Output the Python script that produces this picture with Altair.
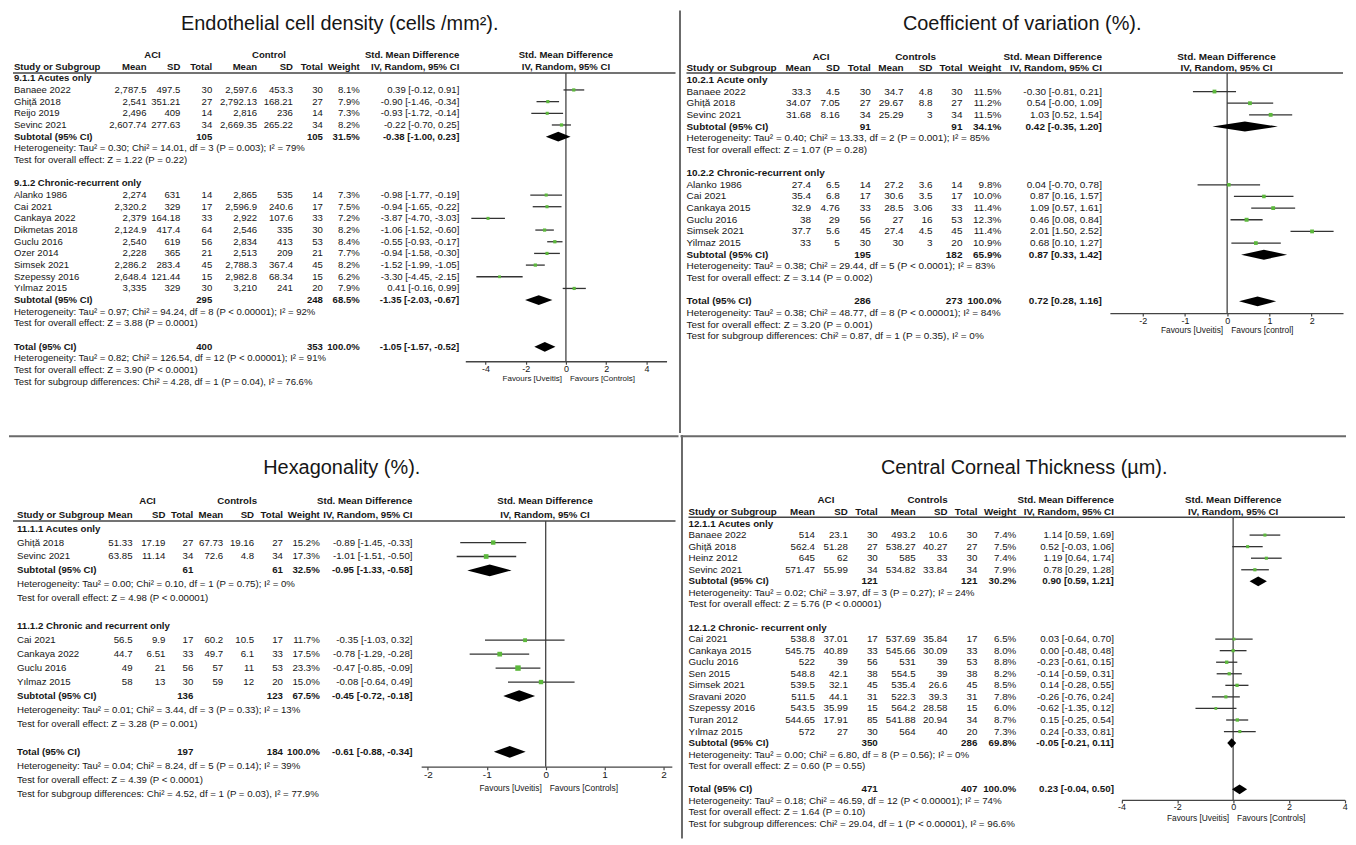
import altair as alt
import pandas as pd

# ======================= DATA =======================
HEAD_STUDY = "Study or Subgroup"
HEAD_ARM = ["Mean", "SD", "Total"]
HEAD_WEIGHT = "Weight"
HEAD_SMD = ["Std. Mean Difference", "IV, Random, 95% CI"]
HEAD_ACI = "ACI"

# ---------- Panel 1: Endothelial cell density ----------
p1_title = "Endothelial cell density (cells /mm²)."
p1_control = "Control"
p1_groups = ["9.1.1 Acutes only", "9.1.2 Chronic-recurrent only"]
p1_study = ["Banaee 2022", "Ghiță 2018", "Reijo 2019", "Sevinc 2021",
            "Alanko 1986", "Cai 2021", "Cankaya 2022", "Dikmetas 2018", "Guclu 2016",
            "Ozer 2014", "Simsek 2021", "Szepessy 2016", "Yılmaz 2015"]
p1_group = [0, 0, 0, 0, 1, 1, 1, 1, 1, 1, 1, 1, 1]
p1_aci_mean = ["2,787.5", "2,541", "2,496", "2,607.74", "2,274", "2,320.2", "2,379", "2,124.9",
               "2,540", "2,228", "2,286.2", "2,648.4", "3,335"]
p1_aci_sd = ["497.5", "351.21", "409", "277.63", "631", "329", "164.18", "417.4", "619", "365",
             "283.4", "121.44", "329"]
p1_aci_n = [30, 27, 14, 34, 14, 17, 33, 64, 56, 21, 45, 15, 30]
p1_ctl_mean = ["2,597.6", "2,792.13", "2,816", "2,669.35", "2,865", "2,596.9", "2,922", "2,546",
               "2,834", "2,513", "2,788.3", "2,982.8", "3,210"]
p1_ctl_sd = ["453.3", "168.21", "236", "265.22", "535", "240.6", "107.6", "335", "413", "209",
             "367.4", "68.34", "241"]
p1_ctl_n = [30, 27, 14, 34, 14, 17, 33, 30, 53, 21, 45, 15, 20]
p1_weight = [8.1, 7.9, 7.3, 8.2, 7.3, 7.5, 7.2, 8.2, 8.4, 7.7, 8.2, 6.2, 7.9]
p1_smd = [0.39, -0.90, -0.93, -0.22, -0.98, -0.94, -3.87, -1.06, -0.55, -0.94, -1.52, -3.30, 0.41]
p1_lo = [-0.12, -1.46, -1.72, -0.70, -1.77, -1.65, -4.70, -1.52, -0.93, -1.58, -1.99, -4.45, -0.16]
p1_hi = [0.91, -0.34, -0.14, 0.25, -0.19, -0.22, -3.03, -0.60, -0.17, -0.30, -1.05, -2.15, 0.99]
p1_sum_aci_n = [105, 295, 400]
p1_sum_ctl_n = [105, 248, 353]
p1_sum_weight = [31.5, 68.5, 100.0]
p1_sum_smd = [-0.38, -1.35, -1.05]
p1_sum_lo = [-1.00, -2.03, -1.57]
p1_sum_hi = [0.23, -0.67, -0.52]
p1_het = ["Heterogeneity: Tau² = 0.30; Chi² = 14.01, df = 3 (P = 0.003); I² = 79%",
          "Heterogeneity: Tau² = 0.97; Chi² = 94.24, df = 8 (P < 0.00001); I² = 92%",
          "Heterogeneity: Tau² = 0.82; Chi² = 126.54, df = 12 (P < 0.00001); I² = 91%"]
p1_eff = ["Test for overall effect: Z = 1.22 (P = 0.22)",
          "Test for overall effect: Z = 3.88 (P = 0.0001)",
          "Test for overall effect: Z = 3.90 (P < 0.0001)"]
p1_diff = "Test for subgroup differences: Chi² = 4.28, df = 1 (P = 0.04), I² = 76.6%"
p1_favours = ["Favours [Uveitis]", "Favours [Controls]"]
p1_ticks = [-4, -2, 0, 2, 4]

# ---------- Panel 2: Coefficient of variation ----------
p2_title = "Coefficient of variation (%)."
p2_control = "Controls"
p2_groups = ["10.2.1 Acute only", "10.2.2 Chronic-recurrent only"]
p2_study = ["Banaee 2022", "Ghiță 2018", "Sevinc 2021",
            "Alanko 1986", "Cai 2021", "Cankaya 2015", "Guclu 2016", "Simsek 2021", "Yilmaz 2015"]
p2_group = [0, 0, 0, 1, 1, 1, 1, 1, 1]
p2_aci_mean = ["33.3", "34.07", "31.68", "27.4", "35.4", "32.9", "38", "37.7", "33"]
p2_aci_sd = ["4.5", "7.05", "8.16", "6.5", "6.8", "4.76", "29", "5.6", "5"]
p2_aci_n = [30, 27, 34, 14, 17, 33, 56, 45, 30]
p2_ctl_mean = ["34.7", "29.67", "25.29", "27.2", "30.6", "28.5", "27", "27.4", "30"]
p2_ctl_sd = ["4.8", "8.8", "3", "3.6", "3.5", "3.06", "16", "4.5", "3"]
p2_ctl_n = [30, 27, 34, 14, 17, 33, 53, 45, 20]
p2_weight = [11.5, 11.2, 11.5, 9.8, 10.0, 11.4, 12.3, 11.4, 10.9]
p2_smd = [-0.30, 0.54, 1.03, 0.04, 0.87, 1.09, 0.46, 2.01, 0.68]
p2_lo = [-0.81, -0.0, 0.52, -0.70, 0.16, 0.57, 0.08, 1.50, 0.10]
p2_hi = [0.21, 1.09, 1.54, 0.78, 1.57, 1.61, 0.84, 2.52, 1.27]
p2_sum_aci_n = [91, 195, 286]
p2_sum_ctl_n = [91, 182, 273]
p2_sum_weight = [34.1, 65.9, 100.0]
p2_sum_smd = [0.42, 0.87, 0.72]
p2_sum_lo = [-0.35, 0.33, 0.28]
p2_sum_hi = [1.20, 1.42, 1.16]
p2_het = ["Heterogeneity: Tau² = 0.40; Chi² = 13.33, df = 2 (P = 0.001); I² = 85%",
          "Heterogeneity: Tau² = 0.38; Chi² = 29.44, df = 5 (P < 0.0001); I² = 83%",
          "Heterogeneity: Tau² = 0.38; Chi² = 48.77, df = 8 (P < 0.00001); I² = 84%"]
p2_eff = ["Test for overall effect: Z = 1.07 (P = 0.28)",
          "Test for overall effect: Z = 3.14 (P = 0.002)",
          "Test for overall effect: Z = 3.20 (P = 0.001)"]
p2_diff = "Test for subgroup differences: Chi² = 0.87, df = 1 (P = 0.35), I² = 0%"
p2_favours = ["Favours [Uveitis]", "Favours [control]"]
p2_ticks = [-2, -1, 0, 1, 2]

# ---------- Panel 3: Hexagonality ----------
p3_title = "Hexagonality (%)."
p3_control = "Controls"
p3_groups = ["11.1.1 Acutes only", "11.1.2 Chronic and recurrent only"]
p3_study = ["Ghiță 2018", "Sevinc 2021", "Cai 2021", "Cankaya 2022", "Guclu 2016", "Yılmaz 2015"]
p3_group = [0, 0, 1, 1, 1, 1]
p3_aci_mean = ["51.33", "63.85", "56.5", "44.7", "49", "58"]
p3_aci_sd = ["17.19", "11.14", "9.9", "6.51", "21", "13"]
p3_aci_n = [27, 34, 17, 33, 56, 30]
p3_ctl_mean = ["67.73", "72.6", "60.2", "49.7", "57", "59"]
p3_ctl_sd = ["19.16", "4.8", "10.5", "6.1", "11", "12"]
p3_ctl_n = [27, 34, 17, 33, 53, 20]
p3_weight = [15.2, 17.3, 11.7, 17.5, 23.3, 15.0]
p3_smd = [-0.89, -1.01, -0.35, -0.78, -0.47, -0.08]
p3_lo = [-1.45, -1.51, -1.03, -1.29, -0.85, -0.64]
p3_hi = [-0.33, -0.50, 0.32, -0.28, -0.09, 0.49]
p3_sum_aci_n = [61, 136, 197]
p3_sum_ctl_n = [61, 123, 184]
p3_sum_weight = [32.5, 67.5, 100.0]
p3_sum_smd = [-0.95, -0.45, -0.61]
p3_sum_lo = [-1.33, -0.72, -0.88]
p3_sum_hi = [-0.58, -0.18, -0.34]
p3_het = ["Heterogeneity: Tau² = 0.00; Chi² = 0.10, df = 1 (P = 0.75); I² = 0%",
          "Heterogeneity: Tau² = 0.01; Chi² = 3.44, df = 3 (P = 0.33); I² = 13%",
          "Heterogeneity: Tau² = 0.04; Chi² = 8.24, df = 5 (P = 0.14); I² = 39%"]
p3_eff = ["Test for overall effect: Z = 4.98 (P < 0.00001)",
          "Test for overall effect: Z = 3.28 (P = 0.001)",
          "Test for overall effect: Z = 4.39 (P < 0.0001)"]
p3_diff = "Test for subgroup differences: Chi² = 4.52, df = 1 (P = 0.03), I² = 77.9%"
p3_favours = ["Favours [Uveitis]", "Favours [Controls]"]
p3_ticks = [-2, -1, 0, 1, 2]

# ---------- Panel 4: Central corneal thickness ----------
p4_title = "Central Corneal Thickness (µm)."
p4_control = "Controls"
p4_groups = ["12.1.1 Acutes only", "12.1.2 Chronic- recurrent only"]
p4_study = ["Banaee 2022", "Ghiță 2018", "Heinz 2012", "Sevinc 2021",
            "Cai 2021", "Cankaya 2015", "Guclu 2016", "Sen 2015", "Simsek 2021",
            "Sravani 2020", "Szepessy 2016", "Turan 2012", "Yılmaz 2015"]
p4_group = [0, 0, 0, 0, 1, 1, 1, 1, 1, 1, 1, 1, 1]
p4_aci_mean = ["514", "562.4", "645", "571.47", "538.8", "545.75", "522", "548.8", "539.5",
               "511.5", "543.5", "544.65", "572"]
p4_aci_sd = ["23.1", "51.28", "62", "55.99", "37.01", "40.89", "39", "42.1", "32.1", "44.1",
             "35.99", "17.91", "27"]
p4_aci_n = [30, 27, 30, 34, 17, 33, 56, 38, 45, 31, 15, 85, 30]
p4_ctl_mean = ["493.2", "538.27", "585", "534.82", "537.69", "545.66", "531", "554.5", "535.4",
               "522.3", "564.2", "541.88", "564"]
p4_ctl_sd = ["10.6", "40.27", "33", "33.84", "35.84", "30.09", "39", "39", "26.6", "39.3",
             "28.58", "20.94", "40"]
p4_ctl_n = [30, 27, 30, 34, 17, 33, 53, 38, 45, 31, 15, 34, 20]
p4_weight = [7.4, 7.5, 7.4, 7.9, 6.5, 8.0, 8.8, 8.2, 8.5, 7.8, 6.0, 8.7, 7.3]
p4_smd = [1.14, 0.52, 1.19, 0.78, 0.03, 0.00, -0.23, -0.14, 0.14, -0.26, -0.62, 0.15, 0.24]
p4_lo = [0.59, -0.03, 0.64, 0.29, -0.64, -0.48, -0.61, -0.59, -0.28, -0.76, -1.35, -0.25, -0.33]
p4_hi = [1.69, 1.06, 1.74, 1.28, 0.70, 0.48, 0.15, 0.31, 0.55, 0.24, 0.12, 0.54, 0.81]
p4_sum_aci_n = [121, 350, 471]
p4_sum_ctl_n = [121, 286, 407]
p4_sum_weight = [30.2, 69.8, 100.0]
p4_sum_smd = [0.90, -0.05, 0.23]
p4_sum_lo = [0.59, -0.21, -0.04]
p4_sum_hi = [1.21, 0.11, 0.50]
p4_het = ["Heterogeneity: Tau² = 0.02; Chi² = 3.97, df = 3 (P = 0.27); I² = 24%",
          "Heterogeneity: Tau² = 0.00; Chi² = 6.80, df = 8 (P = 0.56); I² = 0%",
          "Heterogeneity: Tau² = 0.18; Chi² = 46.59, df = 12 (P < 0.00001); I² = 74%"]
p4_eff = ["Test for overall effect: Z = 5.76 (P < 0.00001)",
          "Test for overall effect: Z = 0.60 (P = 0.55)",
          "Test for overall effect: Z = 1.64 (P = 0.10)"]
p4_diff = "Test for subgroup differences: Chi² = 29.04, df = 1 (P < 0.00001), I² = 96.6%"
p4_favours = ["Favours [Uveitis]", "Favours [Controls]"]
p4_ticks = [-4, -2, 0, 2, 4]


def pack(p):
    g = globals()
    keys = ["title", "control", "groups", "study", "group", "aci_mean", "aci_sd", "aci_n",
            "ctl_mean", "ctl_sd", "ctl_n", "weight", "smd", "lo", "hi", "sum_aci_n", "sum_ctl_n",
            "sum_weight", "sum_smd", "sum_lo", "sum_hi", "het", "eff", "diff", "favours", "ticks"]
    return {k: g[f"{p}_{k}"] for k in keys}


# ======================= LAYOUT (reference pixel coords) =======================
FONT = "Liberation Sans"
TXT = "#161616"
LINE = "#444444"
GREEN = "#5cb83c"

LAYOUT = {
    "p1": dict(ox=8, oy=8, W=672, H=424, font=FONT, fs=9.6, study_x=13,
               cols=dict(am=146, asd=180, an=212, cm=257, csd=293, cn=323, w=360, ci=460),
               aci_c=152, ctl_c=269, row0=87.7, step=11.72, hline=(12, 677, 70.6),
               fx=(466, 668), dom=(-5, 5), axis_y=360, fav_y=378, title=(340, 22), fhead=567,
               fav_fs=8, tick_fs=9),
    "p2": dict(ox=680, oy=8, W=668, H=424, font=FONT, fs=10.0, study_x=688,
               cols=dict(am=813, asd=842, an=873, cm=906, csd=935, cn=965, w=1004, ci=1105),
               aci_c=823, ctl_c=918, row0=89.3, step=11.7, hline=(688, 1347, 70.7),
               fx=(1113, 1347), dom=(-2.776, 2.743), axis_y=311.7, fav_y=329, title=(1025, 22),
               fhead=1230, fav_fs=8.4, tick_fs=9),
    "p3": dict(ox=8, oy=432, W=672, H=405, font=FONT, fs=9.7, study_x=16,
               cols=dict(am=132, asd=165, an=193, cm=223, csd=254, cn=283, w=320, ci=413),
               aci_c=147, ctl_c=237, row0=540, step=14.0, hline=(12, 677, 518.3),
               fx=(421.7, 673.3), dom=(-2.113, 2.14), axis_y=765, fav_y=786, title=(342, 465),
               fhead=546, fav_fs=8.4, tick_fs=10),
    "p4": dict(ox=680, oy=432, W=668, H=405, font=FONT, fs=9.8, study_x=688,
               cols=dict(am=815, asd=848, an=878, cm=916, csd=948, cn=978, w=1017, ci=1115),
               aci_c=826, ctl_c=928, row0=532.5, step=11.6, hline=(688, 1347, 514.5),
               fx=(1122.7, 1346.7), dom=(-4, 4), axis_y=798.3, fav_y=816.5, title=(1025, 465),
               fhead=1234.7, fav_fs=8.4, tick_fs=9),
}

DUMMY = pd.DataFrame({"k": [0]})
HALF = 0.42
COLS = ["name", "am", "asd", "an", "cm", "csd", "cn", "w", "ci"]


def fmt_ci(e, l, h):
    return f"{e:.2f} [{l:.2f}, {h:.2f}]"


def build_tables(d):
    text, forest, dia = [], [], []

    def summary(k, label, r):
        e, l, h = d["sum_smd"][k], d["sum_lo"][k], d["sum_hi"][k]
        text.append(dict(row=r, bold=1, name=label, an=str(d["sum_aci_n"][k]),
                         cn=str(d["sum_ctl_n"][k]), w=f"{d['sum_weight'][k]:.1f}%",
                         ci=fmt_ci(e, l, h)))
        for x, y1, y2 in ((l, r, r), (e, r - HALF, r + HALF), (h, r, r)):
            dia.append(dict(id=k, x=x, y1=y1, y2=y2))

    r = -1
    for g in range(2):
        text.append(dict(row=r, bold=1, name=d["groups"][g]))
        r += 1
        for i, gi in enumerate(d["group"]):
            if gi != g:
                continue
            text.append(dict(row=r, bold=0, name=d["study"][i], am=d["aci_mean"][i],
                             asd=d["aci_sd"][i], an=str(d["aci_n"][i]), cm=d["ctl_mean"][i],
                             csd=d["ctl_sd"][i], cn=str(d["ctl_n"][i]),
                             w=f"{d['weight'][i]:.1f}%",
                             ci=fmt_ci(d["smd"][i], d["lo"][i], d["hi"][i])))
            forest.append(dict(row=r, smd=d["smd"][i], lo=d["lo"][i], hi=d["hi"][i],
                               w=d["weight"][i]))
            r += 1
        summary(g, "Subtotal (95% CI)", r)
        r += 1
        text.append(dict(row=r, bold=0, name=d["het"][g]))
        r += 1
        text.append(dict(row=r, bold=0, name=d["eff"][g]))
        r += 2
    summary(2, "Total (95% CI)", r)
    r += 1
    text.append(dict(row=r, bold=0, name=d["het"][2]))
    r += 1
    text.append(dict(row=r, bold=0, name=d["eff"][2]))
    r += 1
    text.append(dict(row=r, bold=0, name=d["diff"]))
    tdf = pd.DataFrame(text).reindex(columns=["row", "bold"] + COLS).fillna("")
    tdf["bold"] = tdf["bold"].astype(int)
    return tdf, pd.DataFrame(forest), pd.DataFrame(dia)


def const_text(label, x, y, align, font, size, weight="normal"):
    return alt.Chart(DUMMY).mark_text(
        text=label, align=align, baseline="middle", font=font, fontSize=size,
        fontWeight=weight, color=TXT
    ).encode(x=alt.value(x), y=alt.value(y))


def make_panel(d, L, vline=False, hline_top=False):
    ox, oy, W, H = L["ox"], L["oy"], L["W"], L["H"]
    X = lambda v: v - ox
    Y = lambda v: v - oy
    step = L["step"]
    r0 = Y(L["row0"])
    ry = lambda i: r0 + step * i
    F, fs = L["font"], L["fs"]

    ys = alt.Scale(domain=[-r0 / step, (H - r0) / step], range=[0, H], nice=False, zero=False)
    xs = alt.Scale(domain=list(L["dom"]), range=[X(L["fx"][0]), X(L["fx"][1])],
                   nice=False, zero=False)
    xax = alt.Axis(values=d["ticks"], offset=Y(L["axis_y"]) - H, title=None, grid=False,
                   labelExpr="'' + datum.value", labelFlush=False, labelOverlap=False,
                   labelFont=FONT, labelFontSize=L["tick_fs"], labelColor=TXT, labelPadding=0,
                   tickSize=3, tickColor=LINE, tickWidth=1.2, domainColor=LINE, domainWidth=1.3)
    yenc = alt.Y("row:Q", scale=ys, axis=None)

    tdf, fdf, ddf = build_tables(d)
    layers = []

    # title
    layers.append(const_text(d["title"], X(L["title"][0]), Y(L["title"][1]), "center", FONT, 20))

    # column headers
    c = L["cols"]
    hy1, hy2 = ry(-3), ry(-2)
    layers.append(const_text(HEAD_ACI, X(L["aci_c"]), hy1, "center", F, fs, "bold"))
    layers.append(const_text(d["control"], X(L["ctl_c"]), hy1, "center", F, fs, "bold"))
    layers.append(const_text(HEAD_SMD[0], X(c["ci"]), hy1, "right", F, fs, "bold"))
    layers.append(const_text(HEAD_SMD[0], X(L["fhead"]), hy1, "center", F, fs, "bold"))
    layers.append(const_text(HEAD_STUDY, X(L["study_x"]), hy2, "left", F, fs, "bold"))
    for lab, key in zip(HEAD_ARM + HEAD_ARM, ["am", "asd", "an", "cm", "csd", "cn"]):
        layers.append(const_text(lab, X(c[key]), hy2, "right", F, fs, "bold"))
    layers.append(const_text(HEAD_WEIGHT, X(c["w"]), hy2, "right", F, fs, "bold"))
    layers.append(const_text(HEAD_SMD[1], X(c["ci"]), hy2, "right", F, fs, "bold"))
    layers.append(const_text(HEAD_SMD[1], X(L["fhead"]), hy2, "center", F, fs, "bold"))

    # header rule
    hx0, hx1, hyl = L["hline"]
    layers.append(alt.Chart(DUMMY).mark_rule(color=LINE, strokeWidth=1.5).encode(
        x=alt.value(X(hx0)), x2=alt.value(X(hx1)), y=alt.value(Y(hyl))))

    # table body
    base = alt.Chart(tdf)
    for b in (0, 1):
        sub = base.transform_filter(alt.datum.bold == b)
        wt = "bold" if b else "normal"
        layers.append(sub.mark_text(align="left", baseline="middle", font=F, fontSize=fs,
                                    fontWeight=wt, color=TXT).encode(
            x=alt.value(X(L["study_x"])), y=yenc, text="name:N"))
        for key in ["am", "asd", "an", "cm", "csd", "cn", "w", "ci"]:
            layers.append(sub.mark_text(align="right", baseline="middle", font=F, fontSize=fs,
                                        fontWeight=wt, color=TXT).encode(
                x=alt.value(X(c[key])), y=yenc, text=f"{key}:N"))

    # forest plot
    layers.append(alt.Chart(DUMMY).mark_rule(color=LINE, strokeWidth=1.3).encode(
        x=alt.X(datum=0, type="quantitative", scale=xs, axis=xax),
        y=alt.value(Y(hyl)), y2=alt.value(Y(L["axis_y"]))))
    layers.append(alt.Chart(fdf).mark_rule(color="#333333", strokeWidth=1.3).encode(
        x=alt.X("lo:Q", scale=xs, axis=xax), x2="hi:Q", y=yenc))
    layers.append(alt.Chart(fdf).mark_square(color=GREEN, opacity=1).encode(
        x=alt.X("smd:Q", scale=xs, axis=xax), y=yenc,
        size=alt.Size("w:Q", scale=alt.Scale(domain=[0, 25], range=[0, 32]), legend=None)))
    layers.append(alt.Chart(ddf).mark_area(color="black", opacity=1).encode(
        x=alt.X("x:Q", scale=xs, axis=xax),
        y=alt.Y("y1:Q", scale=ys, axis=None, stack=None), y2="y2:Q", detail="id:N"))

    # favours labels
    for lab, al, dx in ((d["favours"][0], "right", -4), (d["favours"][1], "left", 4)):
        layers.append(alt.Chart(DUMMY).mark_text(
            text=lab, align=al, dx=dx, baseline="middle", font=FONT, fontSize=L["fav_fs"],
            color=TXT
        ).encode(x=alt.X(datum=0, type="quantitative", scale=xs, axis=xax),
                 y=alt.value(Y(L["fav_y"]))))

    # quadrant dividers
    if vline:
        layers.append(alt.Chart(DUMMY).mark_rule(color="#6a6a6a", strokeWidth=2).encode(
            x=alt.value(1.5), y=alt.value(0), y2=alt.value(H)))
    if hline_top:
        layers.append(alt.Chart(DUMMY).mark_rule(color="#6a6a6a", strokeWidth=2).encode(
            x=alt.value(0), x2=alt.value(W), y=alt.value(1.2)))

    return alt.layer(*layers).properties(width=W, height=H)


p1 = make_panel(pack("p1"), LAYOUT["p1"])
p2 = make_panel(pack("p2"), LAYOUT["p2"], vline=True)
p3 = make_panel(pack("p3"), LAYOUT["p3"], hline_top=True)
p4 = make_panel(pack("p4"), LAYOUT["p4"], vline=True, hline_top=True)

chart = alt.vconcat(
    alt.hconcat(p1, p2, spacing=0),
    alt.hconcat(p3, p4, spacing=0),
    spacing=0,
).properties(padding=0, background="white").configure_view(stroke=None)

chart.save("out.html", embed_options={"renderer": "svg", "actions": False})
